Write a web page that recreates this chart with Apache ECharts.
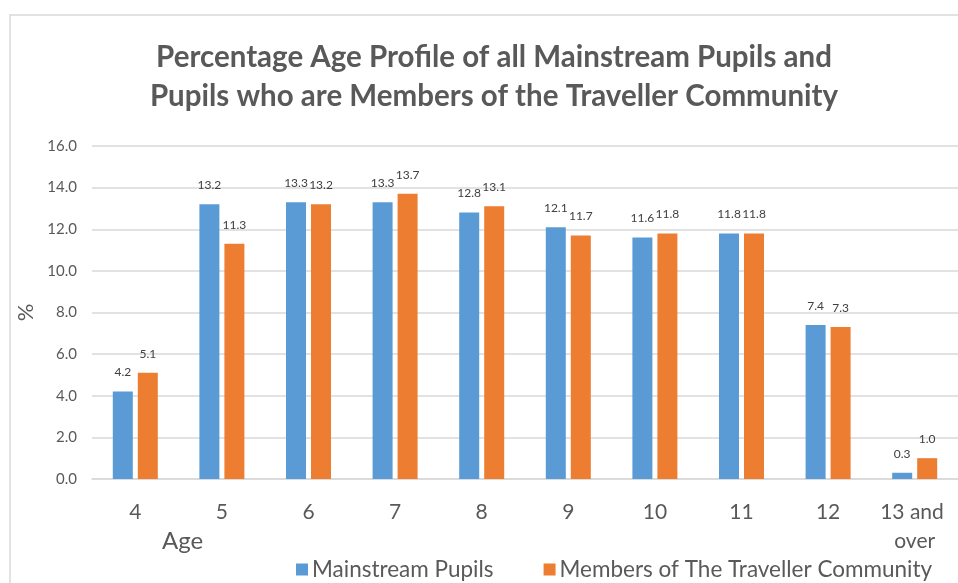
<!DOCTYPE html>
<html>
<head>
<meta charset="utf-8">
<script src="https://cdn.jsdelivr.net/npm/echarts@6/dist/echarts.min.js"></script>
<style>html,body{margin:0;padding:0;background:#fff}#c{width:958px;height:583px}</style>
</head>
<body>
<div id="c"></div>
<script>
const categories = ['4', '5', '6', '7', '8', '9', '10', '11', '12', '13 and over'];
const mainstream = [4.2, 13.2, 13.3, 13.3, 12.8, 12.1, 11.6, 11.8, 7.4, 0.3];
const traveller = [5.1, 11.3, 13.2, 13.7, 13.1, 11.7, 11.8, 11.8, 7.3, 1.0];
const seriesNames = ['Mainstream Pupils', 'Members of The Traveller Community'];
const titleText = 'Percentage Age Profile of all Mainstream Pupils and\nPupils who are Members of the Traveller Community';

const chart = echarts.init(document.getElementById('c'), null, {renderer: 'canvas'});
const font = 'Lato, "Open Sans", sans-serif';
const labelCfg = {
  show: true, position: 'top', distance: 13,
  fontSize: 12, color: '#404040', fontFamily: font,
  formatter: p => p.value.toFixed(1)
};
chart.setOption({
  animation: false,
  backgroundColor: '#fff',
  title: {
    text: titleText,
    left: 489, textAlign: 'center', top: 33,
    textStyle: {fontFamily: font, fontWeight: 'bold', fontSize: 29.5, color: '#595959', lineHeight: 39}
  },
  graphic: [
    {type: 'rect', shape: {x: 10, y: 15, width: 960, height: 600},
     style: {fill: 'none', stroke: '#d9d9d9', lineWidth: 1.5}, silent: true},
    {type: 'text', left: 162, top: 529,
     style: {text: 'Age', fontFamily: font, fontSize: 24, fill: '#595959'}}
  ],
  legend: {
    data: seriesNames, bottom: -3, left: 291,
    itemWidth: 12, itemHeight: 12, itemGap: 50,
    icon: 'rect',
    textStyle: {fontFamily: font, fontSize: 22.5, color: '#595959', padding: [0, 0, 0, -1]}
  },
  grid: {left: 92, top: 146, width: 867, height: 333, containLabel: false},
  xAxis: {
    type: 'category', data: categories,
    axisLine: {lineStyle: {color: '#d9d9d9', width: 1.5}},
    axisTick: {show: false},
    axisLabel: {fontFamily: font, fontSize: 21, color: '#595959', margin: 19, interval: 0,
      width: 80, overflow: 'break', lineHeight: 29}
  },
  yAxis: {
    type: 'value', min: 0, max: 16, interval: 2,
    name: '%', nameLocation: 'middle', nameGap: 52, nameRotate: 90,
    nameTextStyle: {fontFamily: font, fontSize: 22, color: '#595959'},
    axisLine: {show: false}, axisTick: {show: false},
    axisLabel: {fontFamily: font, fontSize: 15, color: '#595959', margin: 15,
      formatter: v => v.toFixed(1)},
    splitLine: {lineStyle: {color: '#d9d9d9', width: 1.5}}
  },
  series: [
    {name: seriesNames[0], type: 'bar', data: mainstream, barWidth: 20, barGap: '25%',
     itemStyle: {color: '#5B9BD5'}, label: labelCfg},
    {name: seriesNames[1], type: 'bar', data: traveller, barWidth: 20,
     itemStyle: {color: '#ED7D31'}, label: labelCfg}
  ]
});
</script>
</body>
</html>
